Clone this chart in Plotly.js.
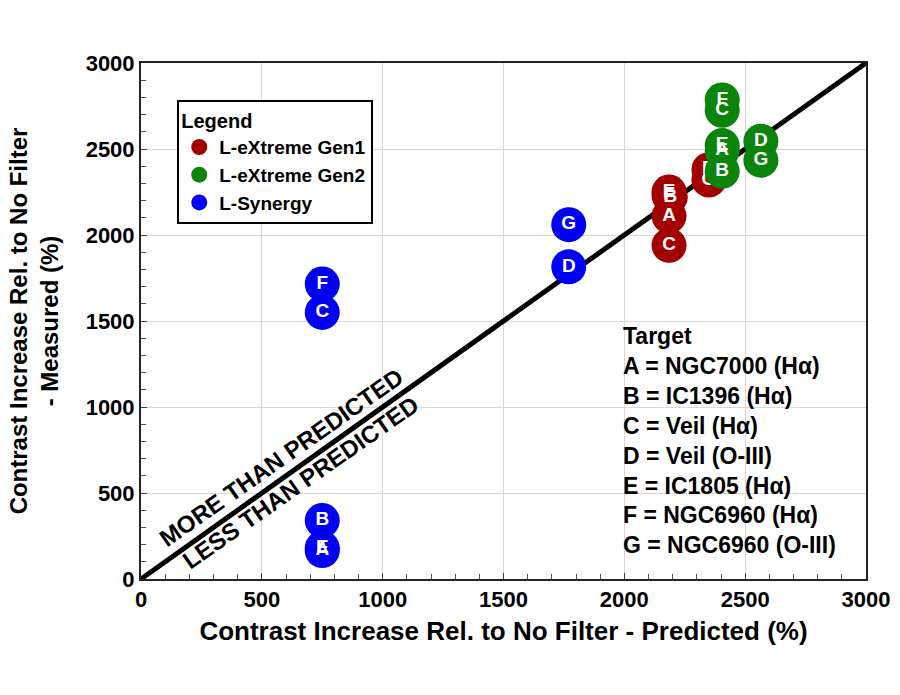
<!DOCTYPE html>
<html><head><meta charset="utf-8">
<script src="https://cdn.plot.ly/plotly-3.0.1.min.js"></script>
<style>body{margin:0;background:#fff}#chart{width:900px;height:695px}</style>
</head><body><div id="chart"></div>
<script>
// Gen1 (red)
const gen1Labels = ['A','B','C','D','E','F','G'];
const gen1X = [2185, 2190, 2185, 2350, 2185, 2185, 2350];
const gen1Y = [2110, 2220, 1940, 2380, 2250, 2230, 2320];
// Gen2 (green)
const gen2Labels = ['A','B','C','D','E','F','G'];
const gen2X = [2405, 2405, 2405, 2565, 2405, 2405, 2565];
const gen2Y = [2490, 2370, 2725, 2545, 2520, 2785, 2435];
// L-Synergy (blue)
const synLabels = ['A','B','C','D','E','F','G'];
const synX = [750, 750, 750, 1770, 750, 750, 1770];
const synY = [165, 340, 1550, 1815, 180, 1715, 2060];
// 1:1 line
const lineX = [0, 3000];
const lineY = [0, 3000];

const FONT = 'Arial, "Liberation Sans", sans-serif';
function pts(name, x, y, labels, color){
  return {type:'scatter', mode:'markers+text', name:name, x:x, y:y, text:labels,
    textposition:'middle center', cliponaxis:false,
    textfont:{family:FONT, size:19, color:'#ffffff', weight:'bold'},
    marker:{size:35, color:color, line:{width:0}}};
}
const data = [
  {type:'scatter', mode:'lines', x:lineX, y:lineY, showlegend:false, hoverinfo:'skip',
   line:{color:'#000', width:5}},
  pts('L-eXtreme Gen1', gen1X, gen1Y, gen1Labels, '#a30000'),
  pts('L-eXtreme Gen2', gen2X, gen2Y, gen2Labels, '#0a840a'),
  pts('L-Synergy', synX, synY, synLabels, '#0000f5')
];
const axisCommon = {
  range:[0,3000], dtick:500, showgrid:true, gridcolor:'#d8d8d8', gridwidth:1,
  zeroline:false, showline:true, linecolor:'#222', linewidth:2, mirror:true,
  ticks:'inside', ticklen:6, tickcolor:'#444', tickwidth:1,
  minor:{dtick:100, ticks:'inside', ticklen:5, tickcolor:'#555', showgrid:false},
  tickfont:{family:FONT, size:22, color:'#000', weight:'bold'}
};
const layout = {
  width:900, height:695,
  margin:{l:141, r:34, t:63, b:116},
  paper_bgcolor:'#fff', plot_bgcolor:'#fff',
  font:{family:FONT, color:'#000'},
  xaxis:Object.assign({}, axisCommon, {
    title:{text:'Contrast Increase Rel. to No Filter - Predicted (%)', standoff:10,
      font:{family:FONT, size:26, color:'#000', weight:'bold'}}
  }),
  yaxis:Object.assign({}, axisCommon, {
    title:{text:'Contrast Increase Rel. to No Filter<br>- Measured (%)', standoff:20,
      font:{family:FONT, size:24, color:'#000', weight:'bold'}}
  }),
  showlegend:true,
  legend:{x:0.05, y:0.928, xanchor:'left', yanchor:'top',
    bgcolor:'#fff', bordercolor:'#000', borderwidth:2,
    title:{text:'Legend', font:{family:FONT, size:20, color:'#000', weight:'bold'}},
    font:{family:FONT, size:19, color:'#000', weight:'bold'},
    tracegroupgap:0, itemwidth:30},
  annotations:[
    {xref:'x', yref:'y', x:580, y:705, text:'MORE THAN PREDICTED', showarrow:false,
     textangle:-35, font:{family:FONT, size:24, color:'#000', weight:'bold'}},
    {xref:'x', yref:'y', x:660, y:560, text:'LESS THAN PREDICTED', showarrow:false,
     textangle:-35, font:{family:FONT, size:24, color:'#000', weight:'bold'}},
    {xref:'paper', yref:'paper', x:0.662, y:0.5, xanchor:'left', yanchor:'top', align:'left',
     showarrow:false,
     text:'Target<br>A = NGC7000 (H\u03b1)<br>B = IC1396 (H\u03b1)<br>C = Veil (H\u03b1)<br>D = Veil (O-III)<br>E = IC1805 (H\u03b1)<br>F = NGC6960 (H\u03b1)<br>G = NGC6960 (O-III)',
     font:{family:FONT, size:23, color:'#000', weight:'bold'}}
  ]
};
Plotly.newPlot('chart', data, layout, {displayModeBar:false, staticPlot:true});
</script>
</body></html>
